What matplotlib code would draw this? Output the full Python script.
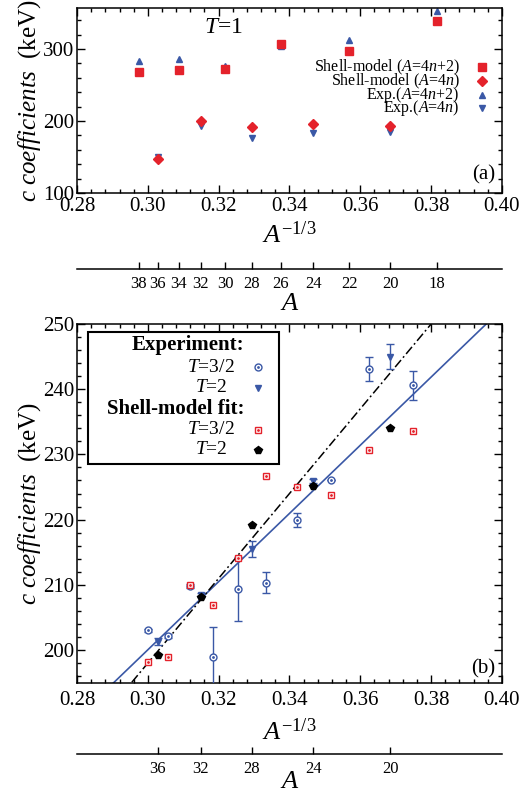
import numpy as np
import matplotlib
matplotlib.use('Agg')
import matplotlib.pyplot as plt
from matplotlib.patches import Rectangle

plt.rcParams['font.family'] = ['Liberation Serif', 'DejaVu Serif']
plt.rcParams['mathtext.fontset'] = 'custom'
plt.rcParams['mathtext.rm'] = 'Liberation Serif'
plt.rcParams['mathtext.it'] = 'Liberation Serif:italic'
plt.rcParams['mathtext.bf'] = 'Liberation Serif:bold'

RED = '#e4222b'
BLUE = '#3a58a6'

# ---- panel (a): T=1 ----
A_4n2 = np.array([38, 34, 30, 26, 22, 18])
sm_4n2 = [268.5, 271.0, 272.7, 307.0, 297.7, 339.4]
exp_4n2 = [284.0, 286.0, 276.0, 304.6, 312.5, 352.8]
A_4n = np.array([36, 32, 28, 24, 20])
sm_4n = [146.8, 199.5, 191.2, 196.3, 193.5]
exp_4n = [149.5, 193.0, 176.0, 182.9, 184.3]
A_ticks_a = [38, 36, 34, 32, 30, 28, 26, 24, 22, 20, 18]

# ---- panel (b): T=3/2 and T=2 ----
A_odd = np.array([37, 35, 33, 31, 29, 27, 25, 23, 21, 19])
exp_t32 = [203.0, 202.1, 209.8, 199.0, 209.4, 210.3, 219.9, 226.0, 243.1, 240.6]
exp_t32_err = [0.3, 0.3, 0.3, 4.5, 4.9, 1.6, 1.1, 0.0, 1.8, 2.2]
sm_t32 = [198.2, 199.0, 209.9, 206.9, 214.1, 226.7, 225.0, 223.7, 230.6, 233.6]
A_even = np.array([36, 32, 28, 24, 20])
exp_t2 = [201.3, 208.4, 215.5, 225.9, 245.0]
exp_t2_err = [0.6, 0.3, 1.2, 0.3, 1.9]
sm_t2 = [199.2, 208.2, 219.1, 225.2, 234.0]
fit_exp = (522.8, 43.2)     # slope, intercept (solid blue)
fit_sm = (650.0, 3.0)       # slope, intercept (dash-dot black)
A_ticks_b = [36, 32, 28, 24, 20]


def fwd(x):
    x = np.asarray(x, dtype=float)
    with np.errstate(divide='ignore', invalid='ignore'):
        return np.where(x > 0, x ** -3.0, np.inf)


def inv(a):
    a = np.asarray(a, dtype=float)
    with np.errstate(divide='ignore', invalid='ignore'):
        return np.where(a > 0, a ** (-1.0 / 3.0), np.inf)


def style_axes(ax, major_y, minor_y, xpad, xlabelpad):
    ax.set_xlim(0.28, 0.40)
    ax.set_xticks(np.arange(0.28, 0.4001, 0.02))
    ax.set_xticks(np.arange(0.28, 0.4001, 0.004), minor=True)
    ax.set_xticklabels(['%.2f' % v for v in np.arange(0.28, 0.4001, 0.02)])
    ax.set_yticks(major_y)
    ax.set_yticks(minor_y, minor=True)
    ax.tick_params(which='both', direction='in', top=True, right=True,
                   labelsize=15, width=1.0, pad=2)
    ax.tick_params(axis='x', which='both', pad=xpad)
    ax.tick_params(which='major', length=6)
    ax.tick_params(which='minor', length=3)
    for s in ax.spines.values():
        s.set_linewidth(1.1)
    ax.set_xlabel(r'$A^{\mathrm{-1/3}}$', fontsize=19, labelpad=xlabelpad)
    ax.set_ylabel(r'$c\ coefficients$  (keV)', fontsize=18, labelpad=0)


def add_A_axis(ax, loc, ticks, labsize, labelpad):
    sec = ax.secondary_xaxis(loc, functions=(fwd, inv))
    sec.set_xticks(ticks)
    sec.set_xticklabels([str(t) for t in ticks])
    sec.xaxis.set_minor_locator(matplotlib.ticker.NullLocator())
    sec.tick_params(direction='in', length=5, width=1.0, labelsize=labsize, pad=5)
    sec.spines['bottom'].set_linewidth(1.1)
    sec.set_xlabel(r'$A$', fontsize=19, labelpad=labelpad)
    return sec


fig = plt.figure(figsize=(5.21, 7.95), dpi=100)

# ---------------- panel (a)
ax1 = fig.add_axes([0.1478, 0.7572, 0.8157, 0.2327])
ax1.set_ylim(100, 357)
style_axes(ax1, [100, 200, 300], np.arange(100, 357, 20), 3, 4)

x42 = A_4n2 ** (-1 / 3)
x4 = A_4n ** (-1 / 3)
ax1.plot(x42, exp_4n2, '^', color=BLUE, ms=5, ls='none')
ax1.plot(x42, sm_4n2, 's', color=RED, ms=6, ls='none')
ax1.plot(x4, exp_4n, 'v', color=BLUE, ms=5, ls='none')
ax1.plot(x4, sm_4n, 'D', color=RED, ms=5.5, ls='none')

# legend (a), text on the left, key on the right
leg_rows = [
    ('Shell-model ($A$=4$n$+2)', 's', RED, 6),
    ('Shell-model ($A$=4$n$)', 'D', RED, 5.5),
    ('Exp.($A$=4$n$+2)', '^', BLUE, 5),
    ('Exp.($A$=4$n$)', 'v', BLUE, 5),
]
for (lab, mk, col, ms), yy in zip(leg_rows, [0.681, 0.605, 0.530, 0.459]):
    ax1.text(0.901, yy, lab, transform=ax1.transAxes, ha='right', va='center',
             fontsize=11.5)
    ax1.plot([0.953], [yy], mk, color=col, ms=ms, transform=ax1.transAxes,
             clip_on=False)

ax1.text(0.344, 0.897, r'$T$=1', transform=ax1.transAxes, ha='center',
         va='center', fontsize=17)
ax1.text(0.958, 0.097, '(a)', transform=ax1.transAxes, ha='center',
         va='center', fontsize=15)
add_A_axis(ax1, -0.41, A_ticks_a, 12, 1)

# ---------------- panel (b)
ax2 = fig.add_axes([0.1478, 0.1413, 0.8157, 0.4512])
ax2.set_ylim(195, 250)
style_axes(ax2, np.arange(200, 251, 10), np.arange(196, 251, 2), 6, 6)

xs = np.linspace(0.28, 0.40, 50)
ax2.plot(xs, fit_exp[0] * xs + fit_exp[1], '-', color=BLUE, lw=1.2)
ax2.plot(xs, fit_sm[0] * xs + fit_sm[1], color='black', lw=1.1,
         ls=(0, (6, 2, 1.2, 2)))

xo = A_odd ** (-1 / 3)
xe = A_even ** (-1 / 3)
ax2.errorbar(xo, exp_t32, yerr=exp_t32_err, fmt='o', mfc='white', mec=BLUE,
             color=BLUE, ms=5, mew=1.0, capsize=3, elinewidth=1.0, zorder=3)
ax2.plot(xo, exp_t32, '.', color=BLUE, ms=2, zorder=4)
ax2.errorbar(xe, exp_t2, yerr=exp_t2_err, fmt='v', color=BLUE, ms=5,
             capsize=3, elinewidth=1.0, zorder=3)
ax2.plot(xo, sm_t32, 's', mfc='white', mec=RED, ms=5, mew=1.0, zorder=5)
ax2.plot(xo, sm_t32, '.', color=RED, ms=2, zorder=6)
ax2.plot(xe, sm_t2, 'p', color='black', ms=6, zorder=5)

# legend (b)
ax2.add_patch(Rectangle((0.026, 0.610), 0.449, 0.368, transform=ax2.transAxes,
                        fill=False, lw=1.5, ec='black', zorder=7))
ax2.text(0.393, 0.9415, 'Experiment:', transform=ax2.transAxes, ha='right',
         va='center', fontsize=15, fontweight='bold')
ax2.text(0.393, 0.763, 'Shell-model fit:', transform=ax2.transAxes, ha='right',
         va='center', fontsize=15, fontweight='bold')
for lab, yy in zip([r'$T$=3/2', r'$T$=2', r'$T$=3/2', r'$T$=2'],
                   [0.880, 0.8216, 0.7045, 0.6487]):
    ax2.text(0.315, yy, lab, transform=ax2.transAxes, ha='center',
             va='center', fontsize=14)
kx = 0.426
ax2.plot([kx], [0.880], 'o', mfc='white', mec=BLUE, ms=5, transform=ax2.transAxes)
ax2.plot([kx], [0.880], '.', color=BLUE, ms=2, transform=ax2.transAxes)
ax2.plot([kx], [0.8216], 'v', color=BLUE, ms=5, transform=ax2.transAxes)
ax2.plot([kx], [0.7045], 's', mfc='white', mec=RED, ms=5, transform=ax2.transAxes)
ax2.plot([kx], [0.7045], '.', color=RED, ms=2, transform=ax2.transAxes)
ax2.plot([kx], [0.6487], 'p', color='black', ms=6, transform=ax2.transAxes)

ax2.text(0.955, 0.038, '(b)', transform=ax2.transAxes, ha='center',
         va='center', fontsize=15)
add_A_axis(ax2, -0.199, A_ticks_b, 12, -4)

fig.savefig('out.png', dpi=100)
